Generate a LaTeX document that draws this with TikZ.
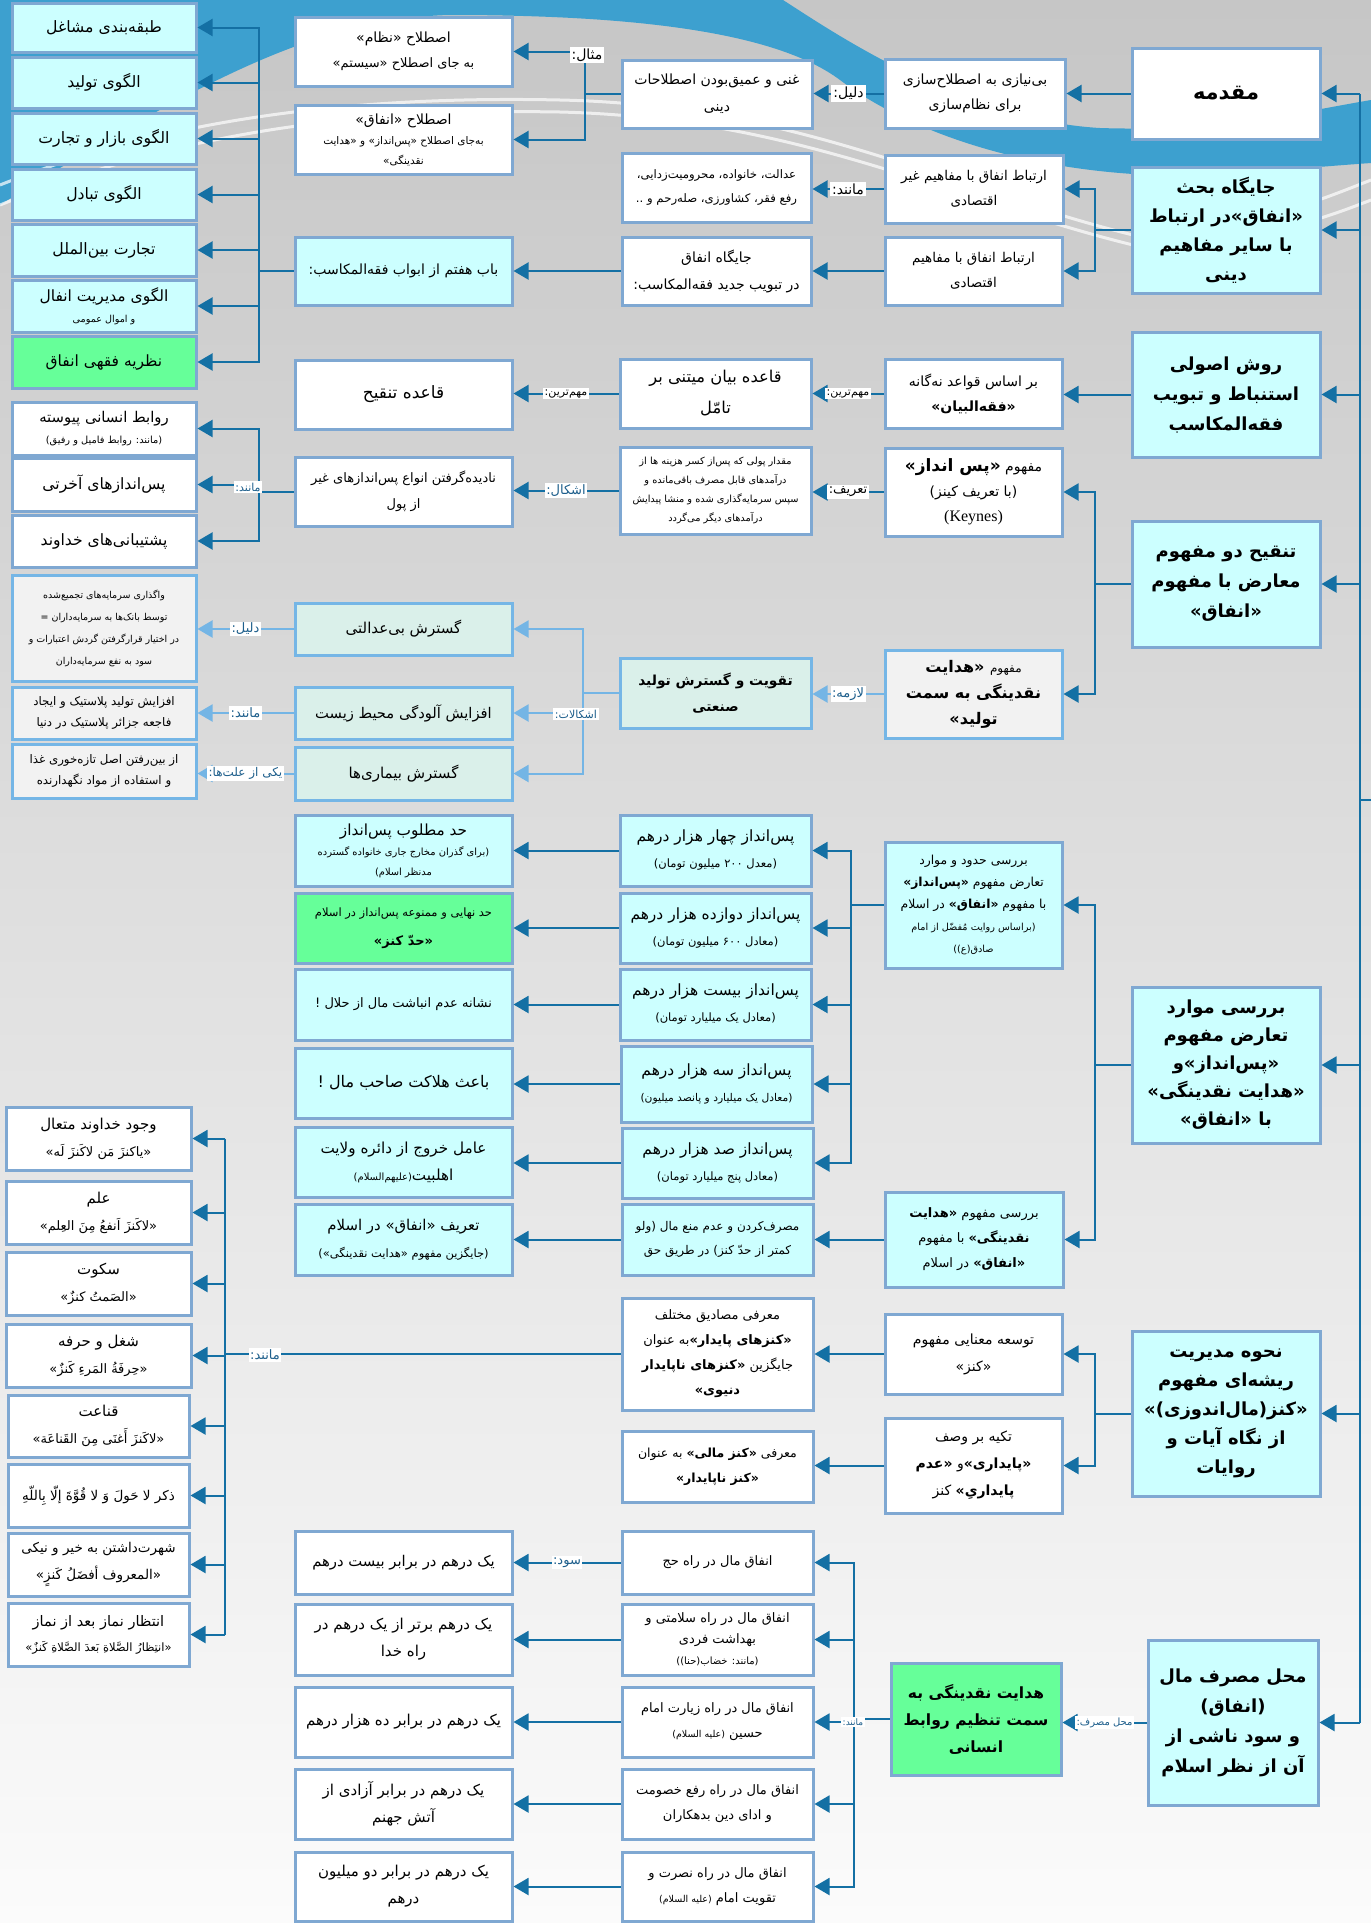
\documentclass[tikz,border=0pt]{standalone}
\usepackage{fontspec}
\setmainfont{Liberation Serif}
\newfontfamily\arfont[Script=Arabic]{DejaVu Sans}
\TeXXeTstate=1
\usetikzlibrary{arrows.meta}
\definecolor{cyanf}{HTML}{CCFFFF}
\definecolor{greenf}{HTML}{66FF99}
\definecolor{mintf}{HTML}{DAF0EA}
\definecolor{grayf}{HTML}{F2F2F2}
\definecolor{bord}{HTML}{7FA8D2}
\definecolor{bordl}{HTML}{75B6E6}
\definecolor{lncol}{HTML}{1470A4}
\definecolor{lnl}{HTML}{74B5E5}
\definecolor{labc}{HTML}{1E5F8C}
\definecolor{bluebg}{HTML}{3DA0CF}
\definecolor{bgtop}{HTML}{C6C6C6}
\definecolor{bgmid}{HTML}{DADADA}
\definecolor{bgbot}{HTML}{FBFBFB}
\newcommand\ar[1]{\beginR #1\endR}
\newcommand\tsz[2]{{\fontsize{#1}{#1}\selectfont #2}}
\newcommand\bx[7]{\node[#6,minimum width={#4-#2},minimum height={#5-#3}] (#1) at ({(#2+#4)/2},{(#3+#5)/2}) {#7};}
\tikzset{
  fz/.style 2 args={font=\arfont\fontsize{#1}{#2}\selectfont},
  fzb/.style 2 args={font=\arfont\bfseries\fontsize{#1}{#2}\selectfont},
  nbox/.style={draw=bord, line width=3pt, fill=white, align=center, inner sep=2pt},
  cbox/.style={nbox, fill=cyanf},
  gbox/.style={nbox, fill=greenf},
  mbox/.style={nbox, draw=bordl, fill=mintf},
  rbox/.style={nbox, draw=bordl, fill=grayf},
  ln/.style={draw=lncol, line width=2pt},
  arr/.style={ln, -{Triangle[length=15pt,width=17pt]}},
  arrl/.style={draw=lnl, line width=2pt, -{Triangle[length=15pt,width=17pt]}},
  lab/.style={fill=white, text=labc, inner sep=1.5pt, font=\arfont\fontsize{11}{13}\selectfont},
  labk/.style={fill=white, text=black, inner sep=2pt, font=\arfont\fontsize{14}{16}\selectfont},
}
\begin{document}
\begin{tikzpicture}[x=1pt,y=-1pt]
\useasboundingbox (0,0) rectangle (1371,1923);
\shade[top color=bgtop, middle color=bgmid, bottom color=bgbot] (0,0) rectangle (1371,1923);
\fill[bluebg] (0,0) -- (783,0) .. controls (830,30) and (960,120) .. (1100,128) .. controls (1220,132) and (1300,112) .. (1371,100) -- (1371,163) .. controls (1300,168) and (1200,178) .. (1133,174) .. controls (1000,165) and (900,125) .. (840,80) .. controls (780,35) and (650,15) .. (450,15) .. controls (320,18) and (200,80) .. (0,205) -- cycle;
\draw[white, line width=3pt, opacity=.7] (0,185) .. controls (150,125) and (330,95) .. (560,100) .. controls (800,105) and (950,190) .. (1133,235) .. controls (1250,230) and (1320,200) .. (1371,180);
\draw[white, line width=3pt, opacity=.7] (0,205) .. controls (160,140) and (330,108) .. (560,112) .. controls (800,118) and (950,200) .. (1133,245) .. controls (1250,245) and (1320,220) .. (1371,200);

% ---------- column E ----------
\bx{E1}{1132}{48}{1320}{139}{nbox,fzb={21}{30}}{\ar{مقدمه}}
\bx{E2}{1132}{167}{1320}{293}{cbox,fzb={18}{29}}{\ar{جایگاه بحث}\\\ar{«انفاق»در ارتباط}\\\ar{با سایر مفاهیم}\\\ar{دینی}}
\bx{E3}{1132}{332}{1320}{457}{cbox,fzb={18}{30}}{\ar{روش اصولی}\\\ar{استنباط و تبویب}\\\ar{فقه‌المکاسب}}
\bx{E4}{1132}{521}{1320}{647}{cbox,fzb={18}{30}}{\ar{تنقیح دو مفهوم}\\\ar{معارض با مفهوم}\\\ar{«انفاق»}}
\bx{E5}{1132}{987}{1320}{1143}{cbox,fzb={18}{28}}{\ar{بررسی موارد}\\\ar{تعارض مفهوم}\\\ar{«پس‌انداز»و}\\\ar{«هدایت نقدینگی»}\\\ar{با «انفاق»}}
\bx{E6}{1132}{1331}{1320}{1496}{cbox,fzb={18}{29}}{\ar{نحوه مدیریت}\\\ar{ریشه‌ای مفهوم}\\\ar{«کنز(مال‌اندوزی)»}\\\ar{از نگاه آیات و}\\\ar{روایات}}
\bx{E7}{1148}{1640}{1318}{1805}{cbox,fzb={18}{30}}{\ar{محل مصرف مال}\\\ar{(انفاق)}\\\ar{و سود ناشی از}\\\ar{آن از نظر اسلام}}

% ---------- column D ----------
\bx{D1}{885}{59}{1065}{128}{nbox,fz={14}{25}}{\ar{بی‌نیازی به اصطلاح‌سازی}\\\ar{برای نظام‌سازی}}
\bx{D2}{885}{155}{1063}{223}{nbox,fz={13.5}{25}}{\ar{ارتباط انفاق با مفاهیم غیر}\\\ar{اقتصادی}}
\bx{D3}{885}{237}{1062}{305}{nbox,fz={13.5}{25}}{\ar{ارتباط انفاق با مفاهیم}\\\ar{اقتصادی}}
\bx{D4}{885}{359}{1062}{428}{nbox,fz={14}{25}}{\ar{بر اساس قواعد نه‌گانه}\\\ar{\bfseries «فقه‌البیان»}}
\bx{D5}{885}{448}{1062}{536}{nbox,fz={14}{25}}{\ar{مفهوم {\bfseries\fontsize{17}{17}\selectfont «پس انداز»}}\\\ar{(با تعریف کینز)}\\{\rmfamily\fontsize{16}{16}\selectfont (Keynes)}}
\bx{D6}{885}{650}{1062}{738}{rbox,fzb={16}{26}}{\ar{\tsz{12}{\mdseries مفهوم} «هدایت}\\\ar{نقدینگی به سمت}\\\ar{تولید»}}
\bx{D7}{885}{842}{1062}{968}{cbox,fz={12.4}{22}}{\ar{بررسی حدود و موارد}\\\ar{تعارض مفهوم {\bfseries«پس‌انداز»}}\\\ar{با مفهوم {\bfseries«انفاق»} در اسلام}\\\ar{\tsz{9.7}{(براساس روایت مُفضّل از امام}}\\\ar{\tsz{9.7}{صادق(ع))}}}
\bx{D8}{885}{1192}{1063}{1287}{cbox,fz={13}{25}}{\ar{بررسی مفهوم {\bfseries«هدایت}}\\\ar{{\bfseries نقدینگی»} با مفهوم}\\\ar{{\bfseries«انفاق»} در اسلام}}
\bx{D9}{885}{1314}{1062}{1394}{nbox,fz={14}{27}}{\ar{توسعه معنایی مفهوم}\\\ar{«کنز»}}
\bx{D10}{885}{1418}{1062}{1513}{nbox,fz={14}{27}}{\ar{تکیه بر وصف}\\\ar{{\bfseries«پایداری»}و {\bfseries«عدم}}\\\ar{{\bfseries پایداریِ»} کنز}}
\bx{D11}{891}{1663}{1061}{1775}{gbox,fzb={15.5}{27}}{\ar{هدایت نقدینگی به}\\\ar{سمت تنظیم روابط}\\\ar{انسانی}}

% ---------- column C ----------
\bx{C1}{622}{60}{812}{128}{nbox,fz={14}{27}}{\ar{غنی و عمیق‌بودن اصطلاحات}\\\ar{دینی}}
\bx{C2}{622}{153}{811}{222}{nbox,fz={11.7}{24}}{\ar{عدالت، خانواده، محرومیت‌زدایی،}\\\ar{رفع فقر، کشاورزی، صله‌رحم و ..}}
\bx{C3}{622}{237}{811}{305}{nbox,fz={14}{27}}{\ar{جایگاه انفاق}\\\ar{در تبویب جدید فقه‌المکاسب:}}
\bx{C4}{620}{359}{811}{428}{nbox,fz={16.3}{31}}{\ar{قاعده بیان میتنی بر}\\\ar{تامّل}}
\bx{C5}{620}{447}{811}{534}{nbox,fz={9.8}{19}}{\ar{مقدار پولی که پس‌از کسر هزینه ها از}\\\ar{درآمدهای قابل مصرف باقی‌مانده و}\\\ar{سپس سرمایه‌گذاری شده و منشا پیدایش}\\\ar{درآمدهای دیگر می‌گردد}}
\bx{C6}{620}{658}{811}{728}{mbox,fzb={13.8}{26}}{\ar{تقویت و گسترش تولید}\\\ar{صنعتی}}
\bx{C7}{620}{815}{811}{886}{cbox,fz={15.5}{26}}{\ar{پس‌انداز چهار هزار درهم}\\\ar{\tsz{11.5}{(معدل ۲۰۰ میلیون تومان)}}}
\bx{C8}{620}{893}{811}{963}{cbox,fz={15.5}{26}}{\ar{پس‌انداز دوازده هزار درهم}\\\ar{\tsz{11.5}{(معادل ۶۰۰ میلیون تومان)}}}
\bx{C9}{620}{969}{811}{1040}{cbox,fz={15.5}{26}}{\ar{پس‌انداز بیست هزار درهم}\\\ar{\tsz{11.5}{(معادل یک میلیارد تومان)}}}
\bx{C10}{621}{1046}{812}{1122}{cbox,fz={15.5}{26}}{\ar{پس‌انداز سه هزار درهم}\\\ar{\tsz{10.7}{(معادل یک میلیارد و پانصد میلیون)}}}
\bx{C11}{622}{1128}{813}{1198}{cbox,fz={15.5}{26}}{\ar{پس‌انداز صد هزار درهم}\\\ar{\tsz{11.5}{(معادل پنج میلیارد تومان)}}}
\bx{C12}{622}{1204}{813}{1275}{cbox,fz={12}{24}}{\ar{مصرف‌کردن و عدم منع مال (ولو}\\\ar{کمتر از حدّ کنز) در طریق حق}}
\bx{C13}{622}{1298}{813}{1410}{nbox,fz={13}{25}}{\ar{معرفی مصادیق مختلف}\\\ar{{\bfseries«کنزهای پایدار»}به عنوان}\\\ar{جایگزین {\bfseries«کنزهای ناپایدار}}\\\ar{\bfseries دنیوی»}}
\bx{C14}{622}{1431}{813}{1502}{nbox,fz={12.5}{25}}{\ar{معرفی {\bfseries«کنز مالی»} به عنوان}\\\ar{\bfseries«کنز ناپایدار»}}
\bx{C15}{622}{1531}{813}{1594}{nbox,fz={13}{24}}{\ar{انفاق مال در راه حج}}
\bx{C16}{622}{1604}{813}{1675}{nbox,fz={13}{21}}{\ar{انفاق مال در راه سلامتی و}\\\ar{بهداشت فردی}\\\ar{\tsz{10}{(مانند: خضاب(حنا))}}}
\bx{C17}{622}{1687}{813}{1757}{nbox,fz={13}{25}}{\ar{انفاق مال در راه زیارت امام}\\\ar{حسین \tsz{9.5}{(علیه السلام)}}}
\bx{C18}{622}{1769}{813}{1839}{nbox,fz={13}{25}}{\ar{انفاق مال در راه رفع خصومت}\\\ar{و ادای دین بدهکاران}}
\bx{C19}{622}{1852}{813}{1921}{nbox,fz={13}{25}}{\ar{انفاق مال در راه نصرت و}\\\ar{تقویت امام \tsz{9.5}{(علیه السلام)}}}

% ---------- column B ----------
\bx{B1}{295}{17}{512}{86}{nbox,fz={14}{25}}{\ar{اصطلاح «نظام»}\\\ar{\tsz{13}{به جای اصطلاح «سیستم»}}}
\bx{B2}{295}{105}{512}{174}{nbox,fz={14}{20}}{\ar{اصطلاح «انفاق»}\\\ar{\tsz{10.5}{به‌جای اصطلاح «پس‌انداز» و «هدایت}}\\\ar{\tsz{10.5}{نقدینگی»}}}
\bx{B3}{295}{237}{512}{305}{cbox,fz={14}{24}}{\ar{باب هفتم از ابواب فقه‌المکاسب:}}
\bx{B4}{295}{360}{512}{429}{nbox,fz={17}{24}}{\ar{قاعده تنقیح}}
\bx{B5}{295}{457}{512}{526}{nbox,fz={13}{26}}{\ar{نادیده‌گرفتن انواع پس‌اندازهای غیر}\\\ar{از پول}}
\bx{B6}{295}{603}{512}{655}{mbox,fz={15}{24}}{\ar{گسترش بی‌عدالتی}}
\bx{B7}{295}{687}{512}{739}{mbox,fz={14.7}{24}}{\ar{افزایش آلودگی محیط زیست}}
\bx{B8}{295}{747}{512}{800}{mbox,fz={15}{24}}{\ar{گسترش بیماری‌ها}}
\bx{B9}{295}{815}{512}{886}{cbox,fz={15.3}{20}}{\ar{حد مطلوب پس‌انداز}\\\ar{\tsz{9.9}{(برای گذران مخارج جاری خانواده گسترده}}\\\ar{\tsz{9.9}{مدنظر اسلام)}}}
\bx{B10}{295}{893}{512}{963}{gbox,fz={11.5}{29}}{\ar{حد نهایی و ممنوعه پس‌انداز در اسلام}\\\ar{{\bfseries\fontsize{13}{13}\selectfont «حدّ کنز»}}}
\bx{B11}{295}{969}{512}{1040}{cbox,fz={13}{24}}{\ar{نشانه عدم انباشت مال از حلال !}}
\bx{B12}{295}{1048}{512}{1118}{cbox,fz={16}{24}}{\ar{باعث هلاکت صاحب مال !}}
\bx{B13}{295}{1127}{512}{1197}{cbox,fz={15.2}{27}}{\ar{عامل خروج از دائره ولایت}\\\ar{اهلبیت\tsz{10}{(علیهم‌السلام)}}}
\bx{B14}{295}{1204}{512}{1275}{cbox,fz={14.9}{27}}{\ar{تعریف «انفاق» در اسلام}\\\ar{\tsz{11.5}{(جایگزین مفهوم «هدایت نقدینگی»)}}}
\bx{B15}{295}{1531}{512}{1594}{nbox,fz={14.8}{24}}{\ar{یک درهم در برابر بیست درهم}}
\bx{B16}{295}{1604}{512}{1675}{nbox,fz={15}{27}}{\ar{یک درهم برتر از یک درهم در}\\\ar{راه خدا}}
\bx{B17}{295}{1687}{512}{1757}{nbox,fz={15}{24}}{\ar{یک درهم در برابر ده هزار درهم}}
\bx{B18}{295}{1769}{512}{1839}{nbox,fz={15}{27}}{\ar{یک درهم در برابر آزادی از}\\\ar{آتش جهنم}}
\bx{B19}{295}{1852}{512}{1921}{nbox,fz={15}{27}}{\ar{یک درهم در برابر دو میلیون}\\\ar{درهم}}

% ---------- column A ----------
\bx{A1}{12}{3}{196}{52}{cbox,fz={15.7}{24}}{\ar{طبقه‌بندی مشاغل}}
\bx{A2}{12}{57}{196}{108}{cbox,fz={15.7}{24}}{\ar{الگوی تولید}}
\bx{A3}{12}{113}{196}{164}{cbox,fz={15.7}{24}}{\ar{الگوی بازار و تجارت}}
\bx{A4}{12}{169}{196}{220}{cbox,fz={15.7}{24}}{\ar{الگوی تبادل}}
\bx{A5}{12}{224}{196}{276}{cbox,fz={15.7}{24}}{\ar{تجارت بین‌الملل}}
\bx{A6}{12}{280}{196}{332}{cbox,fz={15.5}{21}}{\ar{الگوی مدیریت انفال}\\\ar{\tsz{9.6}{و اموال عمومی}}}
\bx{A7}{12}{336}{196}{388}{gbox,fz={15.5}{24}}{\ar{نظریه فقهی انفاق}}
\bx{A8}{12}{402}{196}{455}{nbox,fz={14.8}{21}}{\ar{روابط انسانی پیوسته}\\\ar{\tsz{9.8}{(مانند: روابط فامیل و رفیق)}}}
\bx{A9}{12}{458}{196}{511}{nbox,fz={15.6}{24}}{\ar{پس‌اندازهای آخرتی}}
\bx{A10}{12}{515}{196}{567}{nbox,fz={15.6}{24}}{\ar{پشتیبانی‌های خداوند}}
\bx{A11}{12}{575}{196}{681}{rbox,fz={9.5}{22}}{\ar{واگذاری سرمایه‌های تجمیع‌شده}\\\ar{توسط بانک‌ها به سرمایه‌داران =}\\\ar{در اختیار قرارگرفتن گردش اعتبارات و}\\\ar{سود به نفع سرمایه‌داران}}
\bx{A12}{12}{687}{196}{739}{rbox,fz={11.8}{21}}{\ar{افزایش تولید پلاستیک و ایجاد}\\\ar{فاجعه جزائر پلاستیک در دنیا}}
\bx{A13}{12}{744}{196}{798}{rbox,fz={11.8}{21}}{\ar{از بین‌رفتن اصل تازه‌خوری غذا}\\\ar{و استفاده از مواد نگهدارنده}}
\bx{A14}{6}{1107}{191}{1170}{nbox,fz={15}{27}}{\ar{وجود خداوند متعال}\\\ar{\tsz{13}{«یاکنزَ مَن لاکَنزَ لَه»}}}
\bx{A15}{6}{1181}{191}{1244}{nbox,fz={15}{27}}{\ar{علم}\\\ar{\tsz{13}{«لاکَنزَ اَنفعُ مِنَ العِلم»}}}
\bx{A16}{6}{1252}{191}{1315}{nbox,fz={15}{27}}{\ar{سکوت}\\\ar{\tsz{13}{«الصَمتُ کنزٌ»}}}
\bx{A17}{6}{1324}{191}{1387}{nbox,fz={15}{27}}{\ar{شغل و حرفه}\\\ar{\tsz{13}{«حِرفَةُ المَرءِ کَنزٌ»}}}
\bx{A18}{8}{1395}{189}{1457}{nbox,fz={15}{27}}{\ar{قناعت}\\\ar{\tsz{13}{«لاکَنزَ أَغنَی مِنَ القَناعَة»}}}
\bx{A19}{8}{1464}{189}{1527}{nbox,fz={13.5}{24}}{\ar{ذکر لا حَولَ وَ لا قُوَّةَ إلّا بِاللّهِ}}
\bx{A20}{8}{1533}{189}{1596}{nbox,fz={13.5}{27}}{\ar{شهرت‌داشتن به خیر و نیکی}\\\ar{«المعروف أفضَلُ کَنزٍ»}}
\bx{A21}{8}{1603}{189}{1666}{nbox,fz={14.5}{25}}{\ar{انتظار نماز بعد از نماز}\\\ar{\tsz{11.5}{«انتِظارُ الصَّلاةِ بَعدَ الصَّلاةِ کَنزٌ»}}}

% ---------- connectors ----------
\coordinate (root) at (1371,800);
\coordinate (tr) at (1360,800);
\draw[ln] (root) -- (tr);
\draw[ln] (tr |- E1.east) -- (tr |- E7.east);
\foreach \n in {1,...,7} \draw[arr] (tr |- E\n.east) -- (E\n.east);

\draw[arr] (E1.west) -- (E1.west -| D1.east);
\draw[arr] (D1.west) -- node[labk]{\ar{دلیل:}} (D1.west -| C1.east);
\draw[arr] (C1.west) -- ++(-36,0) |- (B1.east);
\draw[arr] (C1.west) -- ++(-36,0) |- (B2.east);
\node[labk] (lmesal) at (587,55) {\ar{مثال:}};

\draw[arr] (E2.west) -- ++(-36,0) |- (D2.east);
\draw[arr] (E2.west) -- ++(-36,0) |- (D3.east);
\draw[arr] (D2.west) -- node[labk]{\ar{مانند:}} (D2.west -| C2.east);
\draw[arr] (D3.west) -- (D3.west -| C3.east);
\draw[arr] (C3.west) -- (C3.west -| B3.east);
\foreach \n in {1,...,7} \draw[arr] (B3.west) -- ++(-35,0) |- (A\n.east);

\draw[arr] (E3.west) -- (E3.west -| D4.east);
\draw[arr] (D4.west) -- node[lab,text=black]{\ar{مهم‌ترین:}} (D4.west -| C4.east);
\draw[arr] (C4.west) -- node[lab,text=black]{\ar{مهم‌ترین:}} (C4.west -| B4.east);

\draw[arr] (E4.west) -- ++(-36,0) |- (D5.east);
\draw[arr] (E4.west) -- ++(-36,0) |- (D6.east);
\draw[arr] (D5.west) -- node[lab,text=black,font=\arfont\fontsize{13}{15}\selectfont]{\ar{تعریف:}} (D5.west -| C5.east);
\draw[arr] (C5.west) -- node[lab,font=\arfont\fontsize{13}{15}\selectfont]{\ar{اشکال:}} (C5.west -| B5.east);
\draw[arr] (B5.west) -- ++(-35,0) |- (A8.east);
\draw[arr] (B5.west) -- ++(-35,0) |- (A9.east);
\draw[arr] (B5.west) -- ++(-35,0) |- (A10.east);
\node[lab] (lmanand1) at (248,487) {\ar{مانند:}};

\draw[arrl] (D6.west) -- node[lab,font=\arfont\fontsize{13}{15}\selectfont]{\ar{لازمه:}} (D6.west -| C6.east);
\draw[arrl] (C6.west) -- ++(-36,0) |- (B6.east);
\draw[arrl] (C6.west) -- ++(-36,0) |- (B7.east);
\draw[arrl] (C6.west) -- ++(-36,0) |- (B8.east);
\node[lab] (leshk) at (576,714) {\ar{اشکالات:}};
\draw[arrl] (B6.west) -- node[lab,font=\arfont\fontsize{13}{15}\selectfont]{\ar{دلیل:}} (B6.west -| A11.east);
\draw[arrl] (B7.west) -- node[lab,font=\arfont\fontsize{13}{15}\selectfont]{\ar{مانند:}} (B7.west -| A12.east);
\draw[arrl] (B8.west) -- node[lab,font=\arfont\fontsize{12}{14}\selectfont]{\ar{یکی از علت‌ها:}} (B8.west -| A13.east);

\draw[arr] (E5.west) -- ++(-36,0) |- (D7.east);
\draw[arr] (E5.west) -- ++(-36,0) |- (D8.east);
\foreach \n in {7,...,11} \draw[arr] (D7.west) -- ++(-33,0) |- (C\n.east);
\draw[arr] (C7.west) -- (C7.west -| B9.east);
\draw[arr] (C8.west) -- (C8.west -| B10.east);
\draw[arr] (C9.west) -- (C9.west -| B11.east);
\draw[arr] (C10.west) -- (C10.west -| B12.east);
\draw[arr] (C11.west) -- (C11.west -| B13.east);
\draw[arr] (D8.west) -- (D8.west -| C12.east);
\draw[arr] (C12.west) -- (C12.west -| B14.east);

\draw[arr] (E6.west) -- ++(-36,0) |- (D9.east);
\draw[arr] (E6.west) -- ++(-36,0) |- (D10.east);
\draw[arr] (D9.west) -- (D9.west -| C13.east);
\draw[arr] (D10.west) -- (D10.west -| C14.east);
\coordinate (kb) at (225,1354);
\draw[ln] (C13.west) -- (C13.west -| kb);
\draw[ln] (kb |- A14.east) -- (kb |- A21.east);
\foreach \n in {14,...,21} \draw[arr] (kb |- A\n.east) -- (A\n.east);
\node[lab,font=\arfont\fontsize{13}{15}\selectfont] (lmanand2) at (265,1355) {\ar{مانند:}};

\draw[arr] (E7.west) -- node[lab,font=\arfont\fontsize{10}{12}\selectfont]{\ar{محل مصرف:}} (E7.west -| D11.east);
\foreach \n in {15,...,19} \draw[arr] (D11.west) -- ++(-36,0) |- (C\n.east);
\node[lab,font=\arfont\fontsize{9}{11}\selectfont] (lmanand3) at (853,1722) {\ar{مانند:}};
\draw[arr] (C15.west) -- node[lab,font=\arfont\fontsize{13}{15}\selectfont]{\ar{سود:}} (C15.west -| B15.east);
\draw[arr] (C16.west) -- (C16.west -| B16.east);
\draw[arr] (C17.west) -- (C17.west -| B17.east);
\draw[arr] (C18.west) -- (C18.west -| B18.east);
\draw[arr] (C19.west) -- (C19.west -| B19.east);
\end{tikzpicture}
\end{document}
